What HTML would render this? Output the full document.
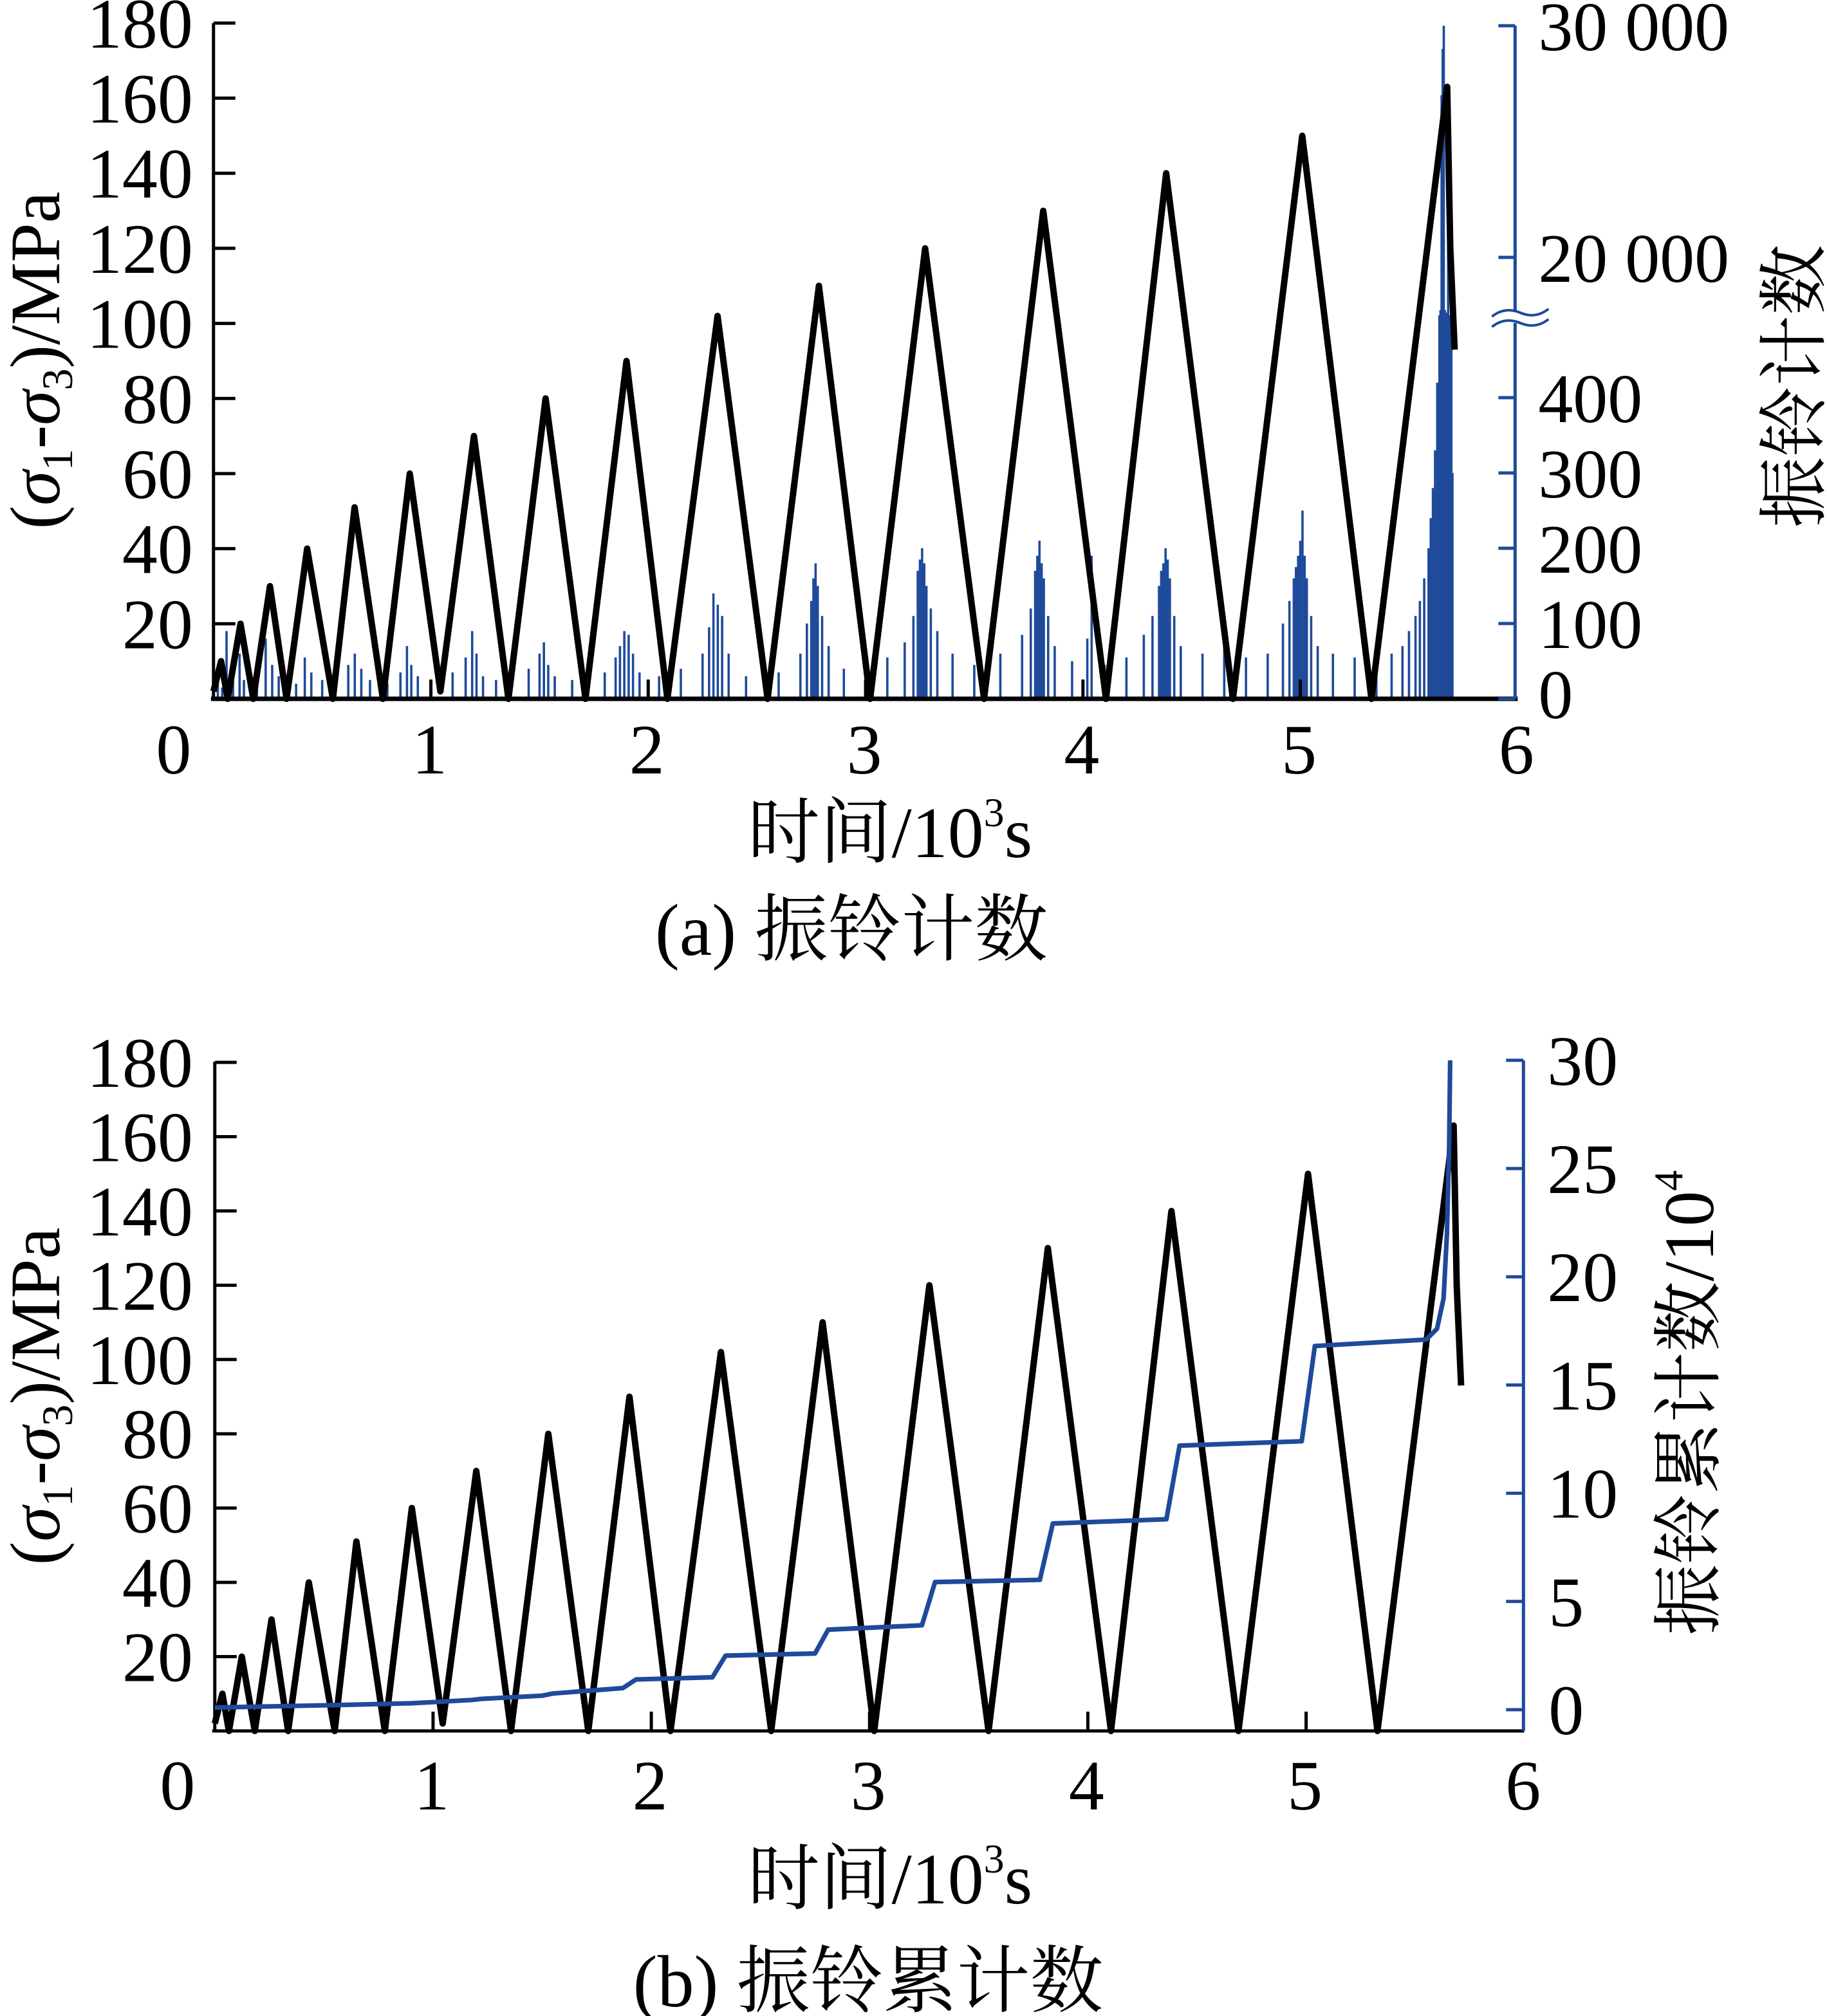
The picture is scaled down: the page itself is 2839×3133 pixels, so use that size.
<!DOCTYPE html>
<html><head><meta charset="utf-8"><style>
html,body{margin:0;padding:0;background:#fff}
svg{display:block}
text{font-family:"Liberation Serif","Noto Serif CJK SC",serif;fill:#000}
</style></head><body>
<svg id="fig" width="2839" height="3133" viewBox="0 0 1420.5 1566.5" preserveAspectRatio="none" xmlns="http://www.w3.org/2000/svg">
<g id="pa"></g>
<g id="pb"></g>
</svg>
<script>
// Stress series (time in 10^3 s, stress in MPa)
const stressT = [0,0.035,0.065,0.124,0.183,0.26,0.336,0.431,0.549,0.649,0.779,0.903,1.044,1.198,1.357,1.528,1.711,1.9,2.088,2.319,2.549,2.785,3.021,3.274,3.545,3.817,4.106,4.383,4.69,5.009,5.327,5.676,5.69,5.71];
const stressV = [2,10,0,20,0,30,0,40,0,51,0,60,2,70,0,80,0,90,0,102,0,110,0,120,0,130,0,140,0,150,0,163,120,93];
// Ring-down counts (panel a)
const aeT = [0.02,0.04,0.06,0.09,0.12,0.14,0.2,0.24,0.27,0.3,
0.38,0.42,0.45,0.5,0.56,0.62,0.65,0.68,0.72,0.8,
0.86,0.89,0.91,0.94,1.0,1.1,1.16,1.19,1.21,1.24,
1.3,1.45,1.5,1.52,1.54,1.57,1.65,1.8,1.85,1.87,
1.89,1.91,1.93,1.96,2.05,2.15,2.25,2.28,2.3,2.32,
2.34,2.37,2.45,2.6,2.7,2.73,2.75,2.76,2.77,2.78,
2.8,2.83,2.9,3.0,3.1,3.18,3.22,3.24,3.25,3.26,
3.27,3.28,3.3,3.33,3.4,3.5,3.62,3.72,3.76,3.78,
3.79,3.8,3.81,3.82,3.84,3.87,3.95,4.02,4.04,4.1,
4.2,4.28,4.32,4.35,4.36,4.37,4.38,4.39,4.4,4.42,
4.45,4.55,4.65,4.75,4.85,4.92,4.95,4.97,4.98,4.99,
5.0,5.01,5.02,5.03,5.05,5.08,5.15,5.25,5.35,5.42,
5.47,5.5,5.53,5.55,5.57,5.59,5.6,5.61,5.62,5.63,
5.64,5.645,5.65,5.655,5.66,5.665,5.67,5.675,5.68,5.685,
5.69,5.695,5.7];
const aeV = [40,15,90,30,60,25,35,80,45,30,
20,55,35,25,30,45,60,40,25,20,
35,70,45,30,20,35,55,90,60,30,
25,40,60,75,45,30,25,35,55,70,
90,85,60,35,30,40,60,95,140,125,
110,60,30,35,60,100,130,160,180,150,
110,70,40,30,55,75,110,170,185,200,
180,150,120,90,60,45,60,85,120,170,
190,210,180,160,110,70,50,80,190,45,
55,85,110,150,170,180,200,185,160,110,
70,60,70,55,60,100,130,160,175,190,
210,250,190,160,110,70,60,55,50,60,
70,90,110,130,160,200,240,280,330,420,
9000,10000,27000,29000,30000,10000,9500,9500,24000,9000,
9000,3000,300];
// Cumulative ring-down counts (10^4), panel b
const cumT = [0,0.5,0.9,1.0,1.18,1.22,1.5,1.55,1.87,1.93,2.28,2.34,2.75,2.81,3.24,3.3,3.78,3.84,4.36,4.42,4.98,5.04,5.55,5.6,5.63,5.645,5.655,5.66];
const cumV = [0.1,0.2,0.3,0.35,0.45,0.5,0.65,0.75,1.0,1.4,1.5,2.5,2.6,3.7,3.9,5.9,6.0,8.6,8.8,12.2,12.4,16.8,17.1,17.6,19,22,26,30];
const xTicks = [0,1,2,3,4,5,6];
const yTicks = [20,40,60,80,100,120,140,160,180];
const rTicksA = [0,100,200,300,400];
const rTicksAHigh = [20000,30000];
const rTicksB = [0,5,10,15,20,25,30];

const NS="http://www.w3.org/2000/svg";
function mk(parent,tag,attrs,txt){const e=document.createElementNS(NS,tag);for(const k in attrs)e.setAttribute(k,attrs[k]);if(txt!==undefined)e.textContent=txt;parent.appendChild(e);return e;}
const BLUE="#1f4a9a";
const FS=55;

// ---------- Panel A ----------
const pa=document.getElementById('pa');
const xA=t=>166+t*169.0;
const yA=v=>543-v*2.917;
const yR=v=>{ if(v<=450) return 543-v*0.585; if(v>=20000) return 200-(v-20000)*0.018; return 280-(v-450)/(19550)*80; };
aeT.forEach((t,i)=>{
  const b=mk(pa,'rect',{x:xA(t)-0.9,y:yR(aeV[i]),width:1.8,height:543-yR(aeV[i]),fill:BLUE});
  
  
});
let pts=stressT.map((t,i)=>xA(t).toFixed(1)+','+yA(stressV[i]).toFixed(1)).join(' ');
const sa=mk(pa,'polyline',{points:pts,fill:'none',stroke:'#000','stroke-width':5,'stroke-linejoin':'round'});


mk(pa,'line',{x1:166,y1:18,x2:166,y2:543,stroke:'#000','stroke-width':2.5,});
mk(pa,'line',{x1:164,y1:543,x2:1180,y2:543,stroke:'#000','stroke-width':3.5,});
mk(pa,'line',{x1:1178,y1:20,x2:1178,y2:543,stroke:BLUE,'stroke-width':2.5,});
yTicks.forEach(v=>{
  mk(pa,'line',{x1:166,y1:yA(v),x2:183,y2:yA(v),stroke:'#000','stroke-width':2.5});
  const l=mk(pa,'text',{x:150,y:yA(v)+19,'font-size':FS,'text-anchor':'end'},String(v));
  
  
});
xTicks.forEach(t=>{
  if(t>0&&t<6) mk(pa,'line',{x1:xA(t),y1:543,x2:xA(t),y2:528,stroke:'#000','stroke-width':2.5});
  const l=mk(pa,'text',{x:t===0?135:xA(t)-1,y:601,'font-size':FS,'text-anchor':'middle'},String(t));
  
  
});
rTicksA.concat(rTicksAHigh).forEach(v=>{
  mk(pa,'line',{x1:1165,y1:yR(v),x2:1178,y2:yR(v),stroke:BLUE,'stroke-width':2.5});
  const s=v>=20000?(v/1000)+' 000':String(v);
  const l=mk(pa,'text',{x:1196,y:yR(v)+(v===0?15:19),'font-size':54},s);
  
  
});
mk(pa,'rect',{x:1170,y:242,width:16,height:9,fill:'#fff'});
mk(pa,'path',{d:'M1160,246 q10,-8 22,-3 t22,-3 M1160,254 q10,-8 22,-3 t22,-3',fill:'none',stroke:BLUE,'stroke-width':2,});
mk(pa,'text',{transform:'translate(46,280) rotate(-90)','font-size':55,'text-anchor':'middle',}).innerHTML='(<tspan font-style="italic">σ</tspan><tspan font-size="34" dy="10">1</tspan><tspan dy="-10">-</tspan><tspan font-style="italic">σ</tspan><tspan font-size="34" dy="10">3</tspan><tspan dy="-10">)/MPa</tspan>';
mk(pa,'text',{transform:'translate(1414,300) rotate(-90)','font-size':55,'text-anchor':'middle',},'振铃计数');
mk(pa,'text',{x:692,y:666,'font-size':56,'text-anchor':'middle',}).innerHTML='时间/10<tspan font-size="32" dy="-24">3</tspan><tspan dy="24">s</tspan>';
mk(pa,'text',{x:662,y:742,'font-size':57,'text-anchor':'middle','xml:space':'preserve'},'(a)  振铃计数');

// ---------- Panel B ----------
const pb=document.getElementById('pb');
const xB=t=>167+t*169.7;
const yB=v=>1345-v*2.886;
const yC=c=>1328.5-c*16.82;
mk(pb,'line',{x1:167,y1:825,x2:167,y2:1345,stroke:'#000','stroke-width':2.5,});
mk(pb,'line',{x1:165,y1:1345,x2:1185,y2:1345,stroke:'#000','stroke-width':2.5,});
mk(pb,'line',{x1:1184.5,y1:824,x2:1184.5,y2:1345,stroke:BLUE,'stroke-width':2.5,});
yTicks.forEach(v=>{
  mk(pb,'line',{x1:167,y1:yB(v),x2:184,y2:yB(v),stroke:'#000','stroke-width':2.5});
  const l=mk(pb,'text',{x:150,y:yB(v)+19,'font-size':FS,'text-anchor':'end'},String(v));
  
  
});
xTicks.forEach(t=>{
  if(t>0&&t<6) mk(pb,'line',{x1:xB(t),y1:1345,x2:xB(t),y2:1330,stroke:'#000','stroke-width':2.5});
  const l=mk(pb,'text',{x:t===0?138:xB(t)-1,y:1406,'font-size':FS,'text-anchor':'middle'},String(t));
  
  
});
rTicksB.forEach(c=>{
  mk(pb,'line',{x1:1171,y1:yC(c),x2:1184.5,y2:yC(c),stroke:BLUE,'stroke-width':2.5});
  const l=mk(pb,'text',{x:c<10?1204:1203,y:yC(c)+19,'font-size':FS},String(c));
  
  
});
pts=stressT.map((t,i)=>xB(t).toFixed(1)+','+yB(stressV[i]).toFixed(1)).join(' ');
const sb=mk(pb,'polyline',{points:pts,fill:'none',stroke:'#000','stroke-width':5,'stroke-linejoin':'round'});


pts=cumT.map((t,i)=>xB(t).toFixed(1)+','+yC(cumV[i]).toFixed(1)).join(' ');
const cb=mk(pb,'polyline',{points:pts,fill:'none',stroke:BLUE,'stroke-width':3.6,'stroke-linejoin':'round'});


mk(pb,'text',{transform:'translate(46,1085) rotate(-90)','font-size':55,'text-anchor':'middle',}).innerHTML='(<tspan font-style="italic">σ</tspan><tspan font-size="34" dy="10">1</tspan><tspan dy="-10">-</tspan><tspan font-style="italic">σ</tspan><tspan font-size="34" dy="10">3</tspan><tspan dy="-10">)/MPa</tspan>';
mk(pb,'text',{transform:'translate(1332,1090) rotate(-90)','font-size':55,'text-anchor':'middle',}).innerHTML='振铃累计数/10<tspan font-size="32" dy="-24">4</tspan>';
mk(pb,'text',{x:692,y:1479,'font-size':56,'text-anchor':'middle',}).innerHTML='时间/10<tspan font-size="32" dy="-24">3</tspan><tspan dy="24">s</tspan>';
mk(pb,'text',{x:675,y:1559,'font-size':57,'text-anchor':'middle','xml:space':'preserve'},'(b)  振铃累计数');
</script>
</body></html>
